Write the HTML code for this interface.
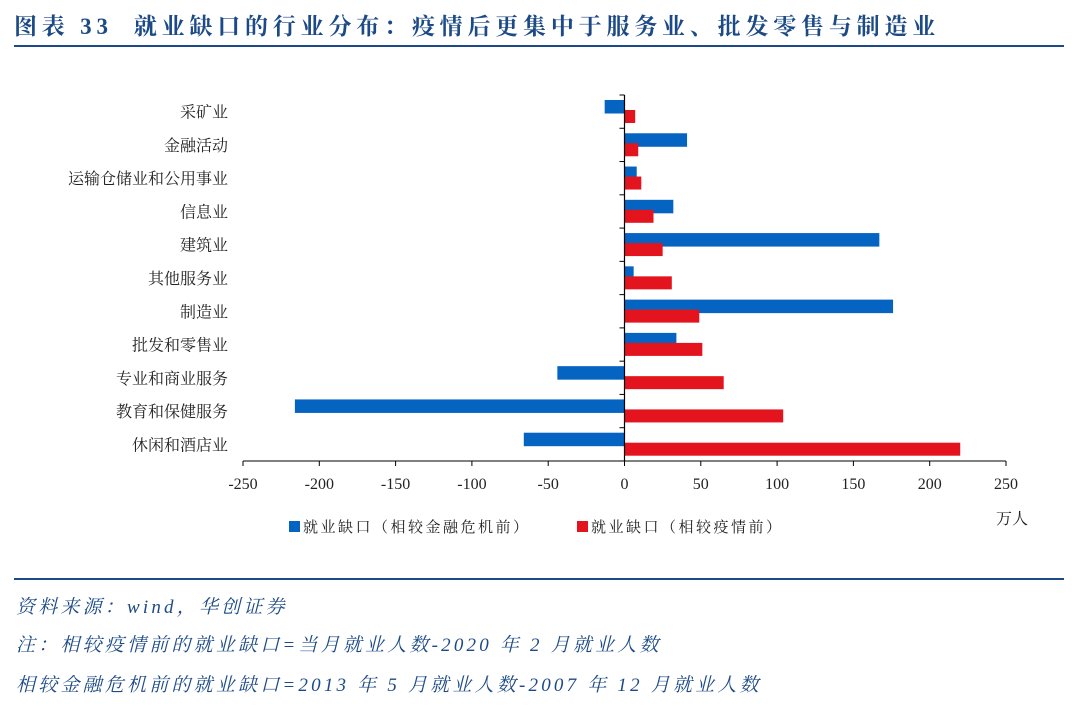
<!DOCTYPE html>
<html><head><meta charset="utf-8"><style>
body{margin:0;width:1080px;height:711px;background:#fff;overflow:hidden;position:relative;font-family:"Liberation Serif","Noto Serif CJK SC",serif}
.t{position:absolute;left:14px;top:8px;font-size:23px;font-weight:bold;color:#1c4a86;letter-spacing:4.8px;white-space:nowrap}
.hl{position:absolute;left:14px;width:1050px;height:2px;background:#1c4a86}
.n{position:absolute;left:16px;font-size:19px;font-style:italic;color:#1c4a86;white-space:nowrap;letter-spacing:3.2px}
svg text{font-family:"Liberation Serif","Noto Serif CJK SC",serif}
</style></head><body>
<div class="t">图表 33&nbsp;&nbsp;就业缺口的行业分布：疫情后更集中于服务业、批发零售与制造业</div>
<div class="hl" style="top:45px"></div>
<svg id="c" width="1080" height="711" style="position:absolute;left:0;top:0"></svg>
<div class="hl" style="top:578px"></div>
<div class="n" style="top:592px">资料来源：wind，华创证券</div>
<div class="n" style="top:630px">注：相较疫情前的就业缺口=当月就业人数-2020 年 2 月就业人数</div>
<div class="n" style="top:670px">相较金融危机前的就业缺口=2013 年 5 月就业人数-2007 年 12 月就业人数</div>
<script>
const categories=["采矿业","金融活动","运输仓储业和公用事业","信息业","建筑业","其他服务业","制造业","批发和零售业","专业和商业服务","教育和保健服务","休闲和酒店业"];
const gfcGap=[-13,41,8,32,167,6,176,34,-44,-216,-66];
const covidGap=[7,9,11,19,25,31,49,51,65,104,220];
const ticks=[-250,-200,-150,-100,-50,0,50,100,150,200,250];
const svg=document.getElementById('c');const NS='http://www.w3.org/2000/svg';
function mk(t,a,txt){const e=document.createElementNS(NS,t);for(const k in a)e.setAttribute(k,a[k]);if(txt!=null)e.textContent=txt;svg.appendChild(e);return e;}
const x=v=>624.5+(v)*763/500;
const top0=95,band=33.27;
const yb=i=>top0+i*band;
categories.forEach((c,i)=>{
 let e=mk('text',{x:228,y:yb(i)+band/2+6,'text-anchor':'end','font-size':16,fill:'#222'},c);
 
 let v=gfcGap[i];
 e=mk('rect',{x:Math.min(x(0),x(v)),y:yb(i)+5,width:Math.abs(x(v)-x(0)),height:13.5,fill:'#0563c1'});
 
 v=covidGap[i];
 e=mk('rect',{x:Math.min(x(0),x(v)),y:yb(i)+15,width:Math.abs(x(v)-x(0)),height:13,fill:'#e3141e'});
 
});
let ax=mk('line',{x1:243,x2:1006,y1:461,y2:461,stroke:'#000','stroke-width':1});

let ay=mk('line',{x1:x(0),x2:x(0),y1:top0,y2:461,stroke:'#000','stroke-width':1.2});

for(let i=0;i<=categories.length;i++)mk('line',{x1:x(0)-5,x2:x(0),y1:yb(i),y2:yb(i),stroke:'#000'});
ticks.forEach(t=>{
 mk('line',{x1:x(t),x2:x(t),y1:461,y2:466,stroke:'#000'});
 const e=mk('text',{x:x(t),y:489,'text-anchor':'middle','font-size':16,fill:'#222'},t);
 
});
let u=mk('text',{x:1012,y:524,'text-anchor':'middle','font-size':16,fill:'#222'},'万人');

let l=mk('rect',{x:289,y:521,width:11,height:11,fill:'#0563c1'});
l=mk('text',{x:303,y:532,'font-size':15,fill:'#222','letter-spacing':'2.5'},'就业缺口（相较金融危机前）');
l=mk('rect',{x:577,y:521,width:11,height:11,fill:'#e3141e'});
l=mk('text',{x:591,y:532,'font-size':15,fill:'#222','letter-spacing':'2.5'},'就业缺口（相较疫情前）');
</script>
</body></html>
